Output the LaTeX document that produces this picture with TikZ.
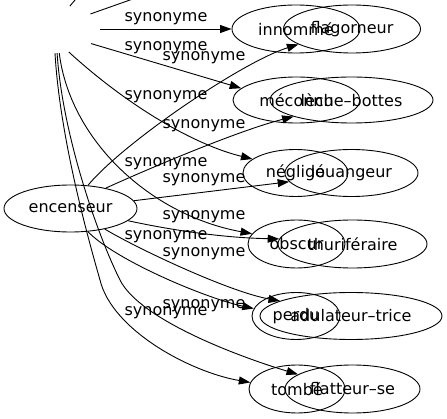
\documentclass[tikz,border=0pt]{standalone}
\usepackage{fontspec}
\setmainfont{DejaVu Sans}
\usetikzlibrary{shapes.geometric,arrows.meta}
\begin{document}
\begin{tikzpicture}[x=1pt,y=-1pt,
  every node/.style={font=\fontsize{16}{19}\selectfont},
  word/.style={ellipse,draw,line width=0.9pt,inner sep=0pt},
  lab/.style={anchor=base,inner sep=0pt},
  syn/.style={line width=0.9pt,-{Triangle[length=11.5pt,width=8pt]}},
  plain/.style={line width=0.9pt}]
\useasboundingbox (0,0) rectangle (447,419);
\clip (0,0) rectangle (447,419);
% nodes
\node[ellipse,minimum width=90pt,minimum height=48pt,inner sep=0pt] (hid) at (55,29) {};
\node[word,minimum width=133pt,minimum height=47pt] (enc) at (70.5,208.5) {encenseur};
\node[word,minimum width=128pt,minimum height=48pt] (inno) at (296,29) {innommé};
\node[word,minimum width=137pt,minimum height=48pt] (flag) at (352,29) {flagorneur};
\node[word,minimum width=127pt,minimum height=46pt] (meco) at (296.5,100) {méconnu};
\node[word,minimum width=163pt,minimum height=46pt] (leche) at (351.5,100) {lèche–bottes};
\node[word,minimum width=105pt,minimum height=47pt] (negl) at (295.5,173) {négligé};
\node[word,minimum width=133pt,minimum height=47pt] (loua) at (351.5,173) {louangeur};
\node[word,minimum width=97pt,minimum height=48pt] (obsc) at (296.5,244) {obscur};
\node[word,minimum width=149pt,minimum height=48pt] (thur) at (352.5,244) {thuriféraire};
\node[word,minimum width=88pt,minimum height=47pt] (perd) at (296,316) {perdu};
\node[word,minimum width=182pt,minimum height=47pt] (adul) at (351,316) {adulateur–trice};
\node[word,minimum width=96pt,minimum height=48pt] (tomb) at (297,389) {tombé};
\node[word,minimum width=135pt,minimum height=48pt] (flat) at (352.5,389) {flatteur–se};
% off-canvas ends
\coordinate (up1) at (76.7,-2);
\coordinate (up2) at (135.7,-2);
% edges from hidden node
\draw[plain] (hid.57) -- (up1);
\draw[plain] (hid.23) -- (up2);
\draw[syn] (hid.east) -- (inno.west);
\draw[syn] (hid.-22) -- (meco.168);
\draw[syn] (hid.-59) .. controls (129,107) and (195,145) .. (negl.162);
\draw[syn] (hid.-80) .. controls (70,140) and (150,215) .. (obsc.167);
\draw[syn] (hid.-90) .. controls (60,140) and (90,245) .. (100,280) .. controls (112,330) and (190,372) .. (tomb.172);
\draw[syn] (hid.-85) .. controls (62,130) and (95,230) .. (120,280) .. controls (140,320) and (240,357) .. (flat.165);
% edges from encenseur
\draw[syn] (enc.53) .. controls (123,143) and (242,62) .. (flag.-164);
\draw[syn] (enc.30) .. controls (150,168) and (240,130) .. (leche.-164);
\draw[syn] (enc.7) -- (loua.-172);
\draw[syn] (enc.-12) .. controls (180,232) and (230,238) .. (thur.176);
\draw[syn] (enc.-31) .. controls (140,250) and (230,292) .. (adul.168);
\draw[syn] (enc.-53) .. controls (115,260) and (205,298) .. (perd.170);
% labels
\node[lab] (l1) at (166,22) {synonyme};
\node[lab] (l2) at (166,51) {synonyme};
\node[lab] (l3) at (204,61) {synonyme};
\node[lab] (l4) at (166,100) {synonyme};
\node[lab] (l5) at (204,129) {synonyme};
\node[lab] (l6) at (166,167) {synonyme};
\node[lab] (l7) at (204,183) {synonyme};
\node[lab] (l8) at (204,220) {synonyme};
\node[lab] (l9) at (166,240) {synonyme};
\node[lab] (l10) at (204,257) {synonyme};
\node[lab] (l11) at (204,309) {synonyme};
\node[lab] (l12) at (166,316) {synonyme};
\end{tikzpicture}
\end{document}
